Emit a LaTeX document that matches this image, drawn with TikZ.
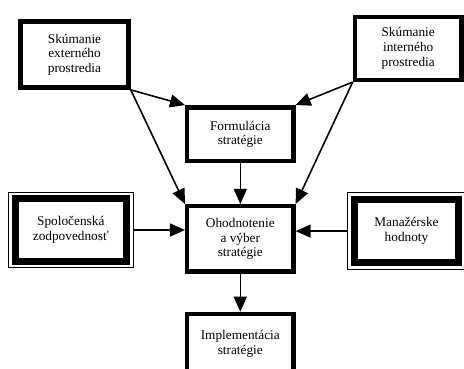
\documentclass[tikz,border=0pt]{standalone}
\usepackage{fontspec}
\setmainfont{Liberation Serif}
\usetikzlibrary{arrows.meta,calc}

\begin{document}
\begin{tikzpicture}[x=1pt, y=1pt,
    stage/.style={draw, line width=4.5pt, inner sep=0pt, align=center,
        font=\fontsize{13.3}{14.7}\selectfont},
    valuebox/.style={draw, line width=0.8pt, inner sep=0pt, align=center,
        font=\fontsize{13.3}{14.7}\selectfont},
    band/.style={line width=7pt},
    flow/.style={-{Triangle[length=15pt,width=13pt]}, line width=1.6pt},
]
    \useasboundingbox (0,0) rectangle (464,369);

    % Environment scanning
    \node[stage, minimum width=108, minimum height=66] (ext) at (74.5,314.4)
        {Skúmanie\\externého\\prostredia};
    \node[stage, minimum width=106.5, minimum height=63] (int) at (408.2,320.7)
        {Skúmanie\\interného\\prostredia};

    % Main chain
    \node[stage, minimum width=106.2, minimum height=53.8] (form) at (240.3,234.8)
        {Formulácia\\stratégie};
    \node[stage, minimum width=106.2, minimum height=65.5] (ohod) at (240.3,130)
        {Ohodnotenie\\a výber\\stratégie};
    \node[stage, minimum width=106.2, minimum height=59] (impl) at (240.3,25.5)
        {Implementácia\\stratégie};

    % Side influences with double frame
    \node[valuebox, minimum width=124.2, minimum height=75.8] (spol) at (70.8,139)
        {Spoločenská\\zodpovednosť};
    \node[valuebox, minimum width=117.6, minimum height=76.9] (man) at (406.5,137.9)
        {Manažérske\\hodnoty};
    \draw[band] ($(spol.north west)+(7,-7)$) rectangle ($(spol.south east)+(-7,7)$);
    \draw[band] ($(man.north west)+(7,-7)$) rectangle ($(man.south east)+(-7,7)$);

    % Connectors
    \draw[flow] (ext.south east) -- (form.north west);
    \draw[flow] (ext.south east) -- (ohod.north west);
    \draw[flow] (int.south west) -- (form.north east);
    \draw[flow] (int.south west) -- (ohod.north east);
    \draw[flow] (form.south) -- (ohod.north);
    \draw[flow] (ohod.south) -- (impl.north);
    \draw[flow] (spol.east) -- (spol.east -| ohod.west);
    \draw[flow] (man.west) -- (man.west -| ohod.east);
\end{tikzpicture}
\end{document}
